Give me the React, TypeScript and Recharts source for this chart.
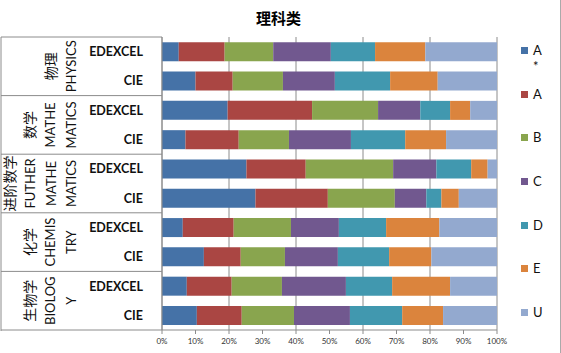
import { Bar, BarChart, CartesianGrid, XAxis, YAxis } from 'recharts';

const subjects = ['物理', '数学', '进阶数学', '化学', '生物学'];
const subjectLines = [
  ['物理', 'PHYSICS'],
  ['数学', 'MATHE', 'MATICS'],
  ['进阶数学', 'FUTHER', 'MATHE', 'MATICS'],
  ['化学', 'CHEMIS', 'TRY'],
  ['生物学', 'BIOLOG', 'Y'],
];
const boards = ['EDEXCEL', 'CIE'];

const grades = ['A*', 'A', 'B', 'C', 'D', 'E', 'U'];
const colors = ['#4572A7', '#AA4643', '#89A54E', '#71588F', '#4198AF', '#DB843D', '#93A9CF'];

// one array per grade, in row order: 物理 EDEXCEL, 物理 CIE, 数学 EDEXCEL, ...
const gradeAStar = [5.0, 10.0, 19.6, 7.0, 25.2, 27.9, 6.2, 12.5, 7.4, 10.4];
const gradeA = [13.7, 11.1, 25.2, 15.9, 17.7, 21.6, 15.2, 11.0, 13.4, 13.4];
const gradeB = [14.5, 15.0, 19.7, 15.0, 26.1, 20.0, 17.1, 13.2, 15.0, 15.6];
const gradeC = [17.2, 15.5, 12.6, 18.5, 12.9, 9.4, 14.3, 15.8, 19.1, 16.7];
const gradeD = [13.2, 16.5, 8.9, 16.2, 10.4, 4.5, 14.1, 15.3, 13.8, 15.6];
const gradeE = [15.0, 14.2, 6.0, 12.2, 4.9, 5.2, 15.9, 12.6, 17.3, 12.2];
const gradeU = [21.4, 17.7, 8.0, 15.2, 2.8, 11.4, 17.2, 19.6, 14.0, 16.1];
const gradeValues = [gradeAStar, gradeA, gradeB, gradeC, gradeD, gradeE, gradeU];

const xTicks = [0, 0.1, 0.2, 0.3, 0.4, 0.5, 0.6, 0.7, 0.8, 0.9, 1];

const rows = subjects.flatMap((s, si) =>
  boards.map((b, bi) => {
    const i = si * 2 + bi;
    const row: Record<string, string | number> = { key: `${s}-${b}`, subject: si, board: b };
    grades.forEach((g, gi) => {
      row[g] = gradeValues[gi][i];
    });
    return row;
  }),
);

const W = 561;
const H = 353;
const TOP = 37;
const BOTTOM = 330;
const AXIS_X = 162;
const rowH = (BOTTOM - TOP) / rows.length;
const FONT = 'Lato, "Noto Sans CJK SC", sans-serif';
const LINE = '#8c8c8c';

function CategoryTick(props: any) {
  const { x, y, index } = props;
  const row = rows[index];
  const si = row.subject as number;
  const lines = subjectLines[si];
  const first = row.board === 'EDEXCEL';
  const cy = y + rowH / 2;
  return (
    <g>
      <text
        x={x - 11}
        y={y}
        textAnchor="end"
        dominantBaseline="central"
        fontSize={12.5}
        fontWeight="bold"
        fill="#111"
        fontFamily={FONT}
      >
        {row.board}
      </text>
      {first && <line x1={1} x2={AXIS_X} y1={y - rowH / 2} y2={y - rowH / 2} stroke={LINE} />}
      {index === rows.length - 1 && <line x1={1} x2={AXIS_X} y1={y + rowH / 2} y2={y + rowH / 2} stroke={LINE} />}
      {index === 0 && <line x1={1} x2={1} y1={TOP} y2={BOTTOM + 1} stroke={LINE} />}
      {first &&
        lines.map((t, li) => {
          const lx = 71 - (lines.length - 1 - li) * 20.5;
          return (
            <text
              key={li}
              x={lx}
              y={cy}
              transform={`rotate(-90 ${lx} ${cy})`}
              textAnchor="middle"
              dominantBaseline="central"
              fontSize={li === 0 ? 14 : 13}
              fill="#111"
              fontFamily={FONT}
            >
              {t}
            </text>
          );
        })}
    </g>
  );
}

export default function App() {
  return (
    <div style={{ position: 'absolute', left: 0, top: 0, width: W, height: H, background: '#fff', fontFamily: FONT }}>
      <div
        style={{
          position: 'absolute',
          left: 0,
          width: W - 4,
          top: 7,
          textAlign: 'center',
          fontSize: 15,
          fontWeight: 'bold',
          color: '#000',
        }}
      >
        理科类
      </div>
      <BarChart
        width={W}
        height={H}
        data={rows}
        layout="vertical"
        stackOffset="expand"
        barCategoryGap="18%"
        margin={{ top: TOP, right: W - 497, bottom: 0, left: 0 }}
      >
        <CartesianGrid horizontal={false} stroke={LINE} />
        <XAxis
          type="number"
          domain={[0, 1]}
          ticks={xTicks}
          tickFormatter={(v: number) => `${Math.round(v * 100)}%`}
          height={H - BOTTOM}
          tick={{ fontSize: 8, fill: '#333', fontFamily: FONT }}
          tickSize={4}
          tickMargin={4}
          axisLine={{ stroke: LINE }}
          tickLine={{ stroke: LINE }}
        />
        <YAxis
          type="category"
          dataKey="key"
          width={AXIS_X}
          interval={0}
          tickLine={false}
          axisLine={{ stroke: LINE }}
          tick={<CategoryTick />}
        />
        {grades.map((g, gi) => (
          <Bar key={g} dataKey={g} stackId="s" fill={colors[gi]} isAnimationActive={false} />
        ))}
      </BarChart>
      <div style={{ position: 'absolute', left: 521, top: 29, fontSize: 13, color: '#111' }}>
        {grades.map((g, gi) => (
          <div key={g} style={{ height: 43.7, display: 'flex', alignItems: 'flex-start' }}>
            <span
              style={{ width: 7, height: 7, background: colors[gi], marginTop: 18, marginRight: 5, flex: 'none' }}
            />
            <span style={{ width: 10, wordBreak: 'break-all', lineHeight: '16px', marginTop: 13 }}>{g}</span>
          </div>
        ))}
      </div>
      <div style={{ position: 'absolute', left: 560, top: 0, width: 1, height: H, background: '#aaa' }} />
    </div>
  );
}
